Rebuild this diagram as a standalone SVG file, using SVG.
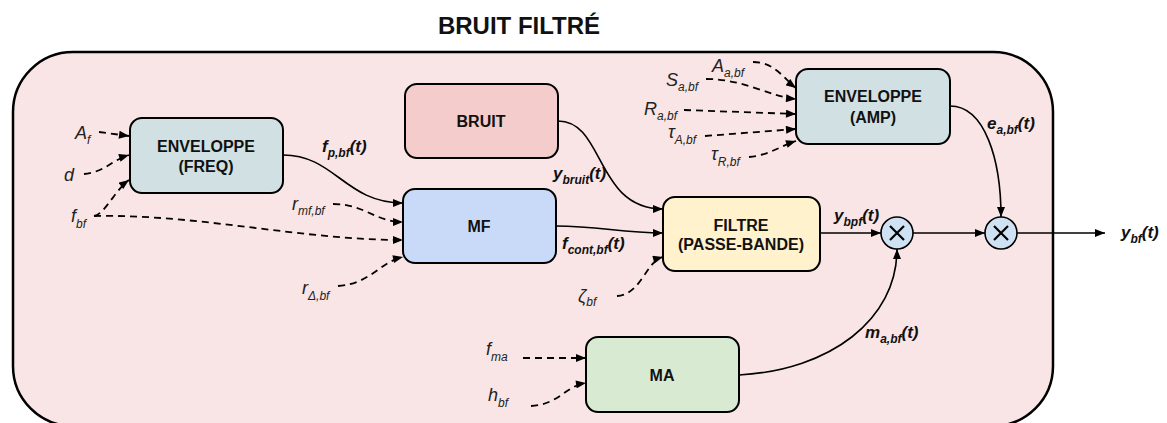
<svg xmlns="http://www.w3.org/2000/svg" width="1167" height="423" viewBox="0 0 1167 423">
<style>
.box{stroke:#000;stroke-width:2}
.bt{font-family:"Liberation Sans",Arial,sans-serif;font-weight:bold;font-size:16px;text-anchor:middle;fill:#111}
.lbl{font-family:"Liberation Sans",Arial,sans-serif;font-style:italic;font-size:18px;fill:#222}
.sig{font-family:"Liberation Sans",Arial,sans-serif;font-style:italic;font-weight:bold;font-size:17px;fill:#111}
.sub{font-size:12px}
.c{fill:none;stroke:#000;stroke-width:1.6}
.d{fill:none;stroke:#000;stroke-width:1.8;stroke-dasharray:7 5}
</style>
<defs>
<marker id="ah" viewBox="0 0 10 8" refX="10" refY="4" markerWidth="11" markerHeight="8" markerUnits="userSpaceOnUse" orient="auto">
<path d="M0,0 L10,4 L0,8 Z" fill="#000"/>
</marker>
</defs>
<rect x="0" y="0" width="1167" height="423" fill="#fff"/>
<text x="519" y="34" style="font-family:'Liberation Sans',Arial,sans-serif;font-weight:bold;font-size:24px;text-anchor:middle;fill:#111">BRUIT FILTRÉ</text>
<g id="container">
<rect x="13" y="52" width="1040" height="374" rx="60" ry="60" fill="#f9e5e5" stroke="#000" stroke-width="2.5"/>
</g>
<g id="connectors">
<path class="c" d="M283,155 C335,155 345,203 403,203" marker-end="url(#ah)"/>
<path class="c" d="M558,121 C605,121 595,209 663,209" marker-end="url(#ah)"/>
<path class="c" d="M556,226 C600,226 620,233 663,233" marker-end="url(#ah)"/>
<path class="c" d="M820,233 L881,233" marker-end="url(#ah)"/>
<path class="c" d="M913,233 L985,233" marker-end="url(#ah)"/>
<path class="c" d="M950,106 C985,106 1001,160 1001,217" marker-end="url(#ah)"/>
<path class="c" d="M739,375 C830,370 897,320 897,249" marker-end="url(#ah)"/>
<path class="c" d="M1017,233 L1105,233" marker-end="url(#ah)"/>
<path class="d" d="M99,132 L129,136" marker-end="url(#ah)"/>
<path class="d" d="M84,174 C105,172 112,160 129,155" marker-end="url(#ah)"/>
<path class="d" d="M94,216 C105,214 115,190 129,180" marker-end="url(#ah)"/>
<path class="d" d="M94,216 C200,214 300,240 403,240" marker-end="url(#ah)"/>
<path class="d" d="M333,204 C365,204 375,222 403,222" marker-end="url(#ah)"/>
<path class="d" d="M338,286 C370,284 380,262 403,257" marker-end="url(#ah)"/>
<path class="d" d="M617,296 C642,294 645,262 663,257" marker-end="url(#ah)"/>
<path class="d" d="M523,358 L586,358" marker-end="url(#ah)"/>
<path class="d" d="M531,406 C560,404 565,386 586,383" marker-end="url(#ah)"/>
<path class="d" d="M753,62 C775,62 785,80 796,88" marker-end="url(#ah)"/>
<path class="d" d="M706,79 C745,79 770,97 796,99" marker-end="url(#ah)"/>
<path class="d" d="M684,110 L796,114" marker-end="url(#ah)"/>
<path class="d" d="M705,136 L796,129" marker-end="url(#ah)"/>
<path class="d" d="M749,157 C770,155 780,146 796,141" marker-end="url(#ah)"/>
</g>
<g id="env-freq">
<rect class="box" x="130" y="118" width="153" height="75" rx="12" fill="#d0e0e3"/>
<text class="bt" x="206" y="152">ENVELOPPE</text>
<text class="bt" x="206" y="172">(FREQ)</text>
</g>
<g id="bruit">
<rect class="box" x="405" y="84" width="153" height="74" rx="12" fill="#f4cccc"/>
<text class="bt" x="481" y="127">BRUIT</text>
</g>
<g id="mf">
<rect class="box" x="403" y="189" width="153" height="74" rx="12" fill="#c9daf8"/>
<text class="bt" x="479" y="232">MF</text>
</g>
<g id="filtre">
<rect class="box" x="663" y="197" width="157" height="74" rx="12" fill="#fff2cc"/>
<text class="bt" x="741" y="231">FILTRE</text>
<text class="bt" x="741" y="250">(PASSE-BANDE)</text>
</g>
<g id="env-amp">
<rect class="box" x="796" y="69" width="154" height="75" rx="12" fill="#d0e0e3"/>
<text class="bt" x="873" y="102">ENVELOPPE</text>
<text class="bt" x="873" y="123">(AMP)</text>
</g>
<g id="ma">
<rect class="box" x="586" y="337" width="153" height="75" rx="12" fill="#d9ead3"/>
<text class="bt" x="662" y="381">MA</text>
</g>
<g id="mult1">
<circle cx="897" cy="233" r="16" fill="#cfe2f3" stroke="#000" stroke-width="1.6"/>
<path d="M890,226 L904,240 M904,226 L890,240" stroke="#000" stroke-width="2.2"/>
</g>
<g id="mult2">
<circle cx="1001" cy="233" r="16" fill="#cfe2f3" stroke="#000" stroke-width="1.6"/>
<path d="M994,226 L1008,240 M1008,226 L994,240" stroke="#000" stroke-width="2.2"/>
</g>
<g id="labels">
<text class="lbl" x="75" y="139">A<tspan class="sub" dy="5">f</tspan></text>
<text class="lbl" x="64" y="181">d</text>
<text class="lbl" x="71" y="222">f<tspan class="sub" dy="6">bf</tspan></text>
<text class="lbl" x="292" y="210">r<tspan class="sub" dy="5">mf,bf</tspan></text>
<text class="lbl" x="302" y="294">r<tspan class="sub" dy="6">Δ,bf</tspan></text>
<text class="lbl" x="712" y="72">A<tspan class="sub" dy="5">a,bf</tspan></text>
<text class="lbl" x="666" y="86">S<tspan class="sub" dy="5">a,bf</tspan></text>
<text class="lbl" x="644" y="115">R<tspan class="sub" dy="5">a,bf</tspan></text>
<text class="lbl" x="668" y="138">τ<tspan class="sub" dy="6">A,bf</tspan></text>
<text class="lbl" x="711" y="160">τ<tspan class="sub" dy="6">R,bf</tspan></text>
<text class="lbl" x="578" y="302">ζ<tspan class="sub" dy="4">bf</tspan></text>
<text class="lbl" x="486" y="355">f<tspan class="sub" dy="6">ma</tspan></text>
<text class="lbl" x="488" y="401">h<tspan class="sub" dy="6">bf</tspan></text>
<text class="sig" x="322" y="152">f<tspan class="sub" dy="5">p,bf</tspan><tspan dy="-5">(t)</tspan></text>
<text class="sig" x="553" y="179">y<tspan class="sub" dy="5">bruit</tspan><tspan dy="-5">(t)</tspan></text>
<text class="sig" x="562" y="249">f<tspan class="sub" dy="5">cont,bf</tspan><tspan dy="-5">(t)</tspan></text>
<text class="sig" x="834" y="221">y<tspan class="sub" dy="5">bpf</tspan><tspan dy="-5">(t)</tspan></text>
<text class="sig" x="987" y="129">e<tspan class="sub" dy="5">a,bf</tspan><tspan dy="-5">(t)</tspan></text>
<text class="sig" x="865" y="338">m<tspan class="sub" dy="5">a,bf</tspan><tspan dy="-5">(t)</tspan></text>
<text class="sig" x="1121" y="238">y<tspan class="sub" dy="5">bf</tspan><tspan dy="-5">(t)</tspan></text>
</g>
</svg>
